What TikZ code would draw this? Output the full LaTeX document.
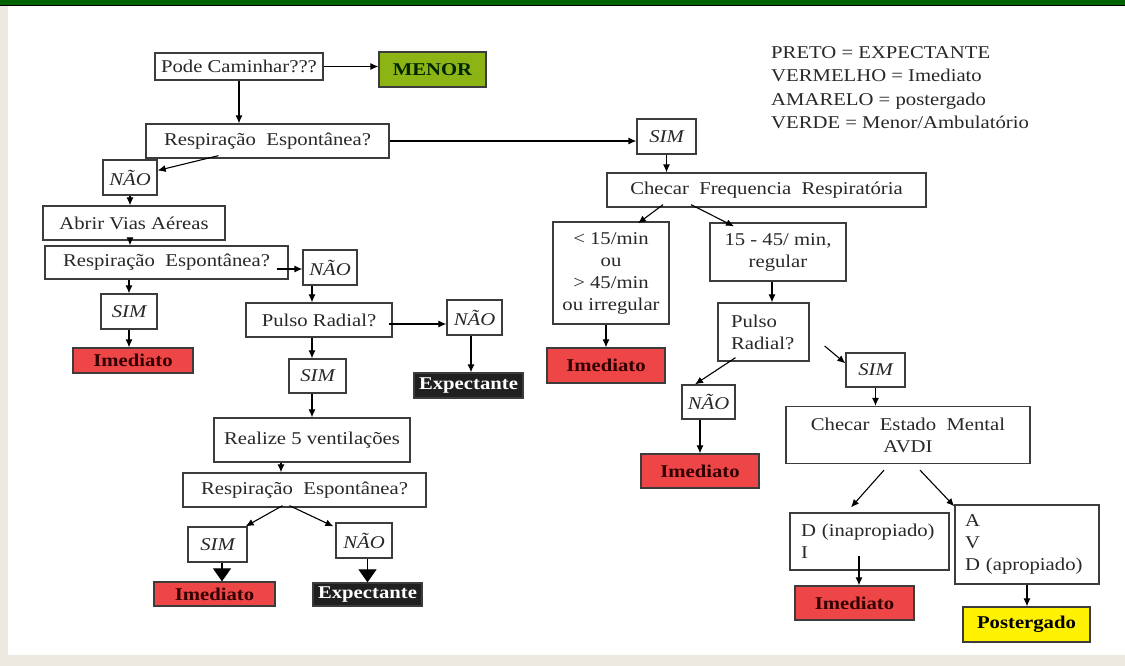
\documentclass[tikz,border=0pt]{standalone}
\usepackage{fontspec}
\setmainfont{Liberation Serif}[FakeStretch=1.15]
\usepackage{tikz}
\usetikzlibrary{arrows.meta,positioning}
\definecolor{barGreen}{RGB}{0,98,0}
\definecolor{pageBeige}{RGB}{236,234,224}
\definecolor{boxLine}{RGB}{60,60,60}
\definecolor{txtGray}{RGB}{40,40,40}
\definecolor{redFill}{RGB}{238,70,70}
\definecolor{redText}{RGB}{50,0,0}
\definecolor{greenFill}{RGB}{140,180,20}
\definecolor{blackFill}{RGB}{32,32,32}
\newcommand{\boxfont}{\fontsize{18}{22}\selectfont}

\begin{document}
\begin{tikzpicture}[x=1pt, y=-1pt,
		every node/.style={inner sep=0pt, font=\boxfont, text=txtGray},
		box/.style={draw=boxLine, line width=1.3pt, fill=white, rectangle},
		ans/.style={box, font=\boxfont\itshape},
		tag/.style={draw=boxLine, line width=1.3pt, rectangle, font=\boxfont\bfseries},
		arr/.style={-{Latex[length=8pt, width=7pt]}, line width=1.1pt, black},
		bigarr/.style={-{Triangle[length=13pt, width=18pt]}, line width=1.1pt, black}]
			% page
			\fill[pageBeige] (0,0) rectangle (1125,666);
			\fill[white] (8,6) rectangle (1125,655);
			\fill[barGreen] (0,0) rectangle (1125,5);
			\fill[black] (0,5) rectangle (1125,6.5);
			\useasboundingbox (0,0) rectangle (1125,666);
			
			\node[anchor=north west, align=left, font=\fontsize{18}{23.3}\selectfont] (legenda) at (771,46.5) {PRETO = EXPECTANTE\\VERMELHO = Imediato\\AMARELO = postergado\\VERDE = Menor/Ambulatório};
			
			% left branch
			\node[box, minimum width=168pt, minimum height=27pt] (pode) at (239,66.5) {Pode Caminhar???};
			
			\node[tag, fill=greenFill, text=black!85!green, minimum width=107pt, minimum height=35pt] (menor) at (432.5,69.5) {MENOR};
			
			\node[box, minimum width=243pt, minimum height=34pt] (resp1) at (267.5,141) {Respiração\ \ Espontânea?};
			
			\node[ans, minimum width=59pt, minimum height=35pt] (simTop) at (666.5,136.5) {SIM};
			
			\node[ans, minimum width=54pt, minimum height=35pt] (naoTop) at (130,177.5) {NÃO};
			
			\node[box, minimum width=182pt, minimum height=34pt] (abrir) at (134,223) {Abrir Vias Aéreas};
			
			\node[box, minimum width=243pt, minimum height=33pt] (resp2) at (166.5,262.5) {Respiração\ \ Espontânea?};
			
			\node[ans, minimum width=54pt, minimum height=35pt] (nao2) at (330,267.5) {NÃO};
			
			\node[ans, minimum width=56pt, minimum height=35pt] (sim2) at (129,311.5) {SIM};
			
			\node[tag, fill=redFill, text=redText, minimum width=120pt, minimum height=25pt] (imed1) at (133,360.5) {Imediato};
			
			\node[box, minimum width=146pt, minimum height=34pt] (pulso1) at (319,320) {Pulso Radial?};
			
			\node[ans, minimum width=55pt, minimum height=35pt] (nao3) at (474.5,317.5) {NÃO};
			
			\node[tag, fill=blackFill, text=white, minimum width=109pt, minimum height=25pt] (expec1) at (468.5,385.5) {Expectante};
			
			\node[ans, minimum width=57pt, minimum height=34pt] (sim3) at (317.5,376) {SIM};
			
			\node[box, minimum width=196pt, minimum height=44pt] (ventila) at (312,440) {Realize 5 ventilações};
			
			\node[box, minimum width=243pt, minimum height=34pt] (resp3) at (304.5,490) {Respiração\ \ Espontânea?};
			
			\node[ans, minimum width=59pt, minimum height=35pt] (sim4) at (217.5,544.5) {SIM};
			
			\node[ans, minimum width=56pt, minimum height=35pt] (nao4) at (364,540.5) {NÃO};
			
			\node[tag, fill=redFill, text=redText, minimum width=121pt, minimum height=24pt] (imed2) at (214.5,594) {Imediato};
			
			\node[tag, fill=blackFill, text=white, minimum width=109pt, minimum height=23pt] (expec2) at (367.5,594.5) {Expectante};
			
			% right branch
			\node[box, minimum width=319pt, minimum height=34pt] (freq) at (766.5,190) {Checar\ \ Frequencia\ \ Respiratória};
			
			\node[box, align=center, minimum width=116pt, minimum height=102pt] (fora) at (611,273) {< 15/min\\ou\\> 45/min\\ou irregular};
			
			\node[box, align=center, minimum width=136pt, minimum height=58pt] (normal) at (778,252) {15 - 45/ min,\\regular};
			
			\node[tag, fill=redFill, text=redText, minimum width=118pt, minimum height=35pt] (imed3) at (606,365.5) {Imediato};
			
			\node[box, align=left, text width=65pt, inner xsep=13pt, minimum height=58pt] (pulso2) at (763.5,332) {Pulso\\Radial?};
			
			\node[ans, minimum width=59pt, minimum height=34pt] (sim5) at (875.5,370) {SIM};
			
			\node[ans, minimum width=53pt, minimum height=34pt] (nao5) at (708.5,402) {NÃO};
			
			\node[tag, fill=redFill, text=redText, minimum width=118pt, minimum height=34pt] (imed4) at (700,471) {Imediato};
			
			\node[box, align=center, minimum width=244pt, minimum height=57pt] (mental) at (908,435) {Checar\ \ Estado\ \ Mental\\AVDI};
			
			\node[box, align=left, text width=137pt, inner xsep=11pt, minimum height=57pt] (inapr) at (869.5,541.5) {D (inapropiado)\\I};
			
			\node[box, align=left, text width=124pt, inner xsep=10pt, minimum height=79pt] (apro) at (1027,544.5) {A\\V\\D (apropiado)};
			
			\node[tag, fill=redFill, text=redText, minimum width=119pt, minimum height=34pt] (imed5) at (854.5,603) {Imediato};
			
			\node[tag, fill=yellow, text=black, minimum width=127pt, minimum height=35pt] (poster) at (1026.5,624.5) {Postergado};
			
			% connectors, left
			\draw[arr] (pode) -- (pode -| menor.west);
			\draw[arr] (pode) -- (pode |- resp1.north);
			\draw[arr] (resp1) -- (resp1 -| simTop.west);
			\draw[arr] ([xshift=-49pt,yshift=3pt]resp1.south) -- ([yshift=7pt]naoTop.east);
			\draw[arr] (naoTop) -- (naoTop |- abrir.north);
			\draw[arr] (naoTop |- abrir.south) -- (naoTop |- resp2.north);
			\draw[arr] ([xshift=-12pt,yshift=-6.5pt]resp2.east) -- ([yshift=-1.5pt]nao2.west);
			\draw[arr] (resp2.south -| sim2) -- (sim2);
			\draw[arr] (sim2) -- (sim2 |- imed1.north);
			\draw[arr] ([xshift=-18pt]nao2.south) -- ([xshift=-7pt]pulso1.north);
			\draw[arr] ([xshift=-4pt,yshift=-4pt]pulso1.east) -- ([yshift=-6.5pt]nao3.west);
			\draw[arr] ([xshift=-3.5pt]nao3.south) -- ([xshift=2.5pt]expec1.north);
			\draw[arr] ([xshift=-7pt]pulso1.south) -- ([xshift=-5.5pt]sim3.north);
			\draw[arr] ([xshift=-5.5pt]sim3.south) -- (ventila);
			\draw[arr] ([xshift=-31pt]ventila.south) -- ([xshift=-23.5pt]resp3.north);
			\draw[arr] ([xshift=-22pt,yshift=2pt]resp3.south) -- ([xshift=-2pt]sim4.north east);
			\draw[arr] ([xshift=-15pt,yshift=2pt]resp3.south) -- ([xshift=-2pt,yshift=-4pt]nao4.north west);
			\draw[bigarr] ([xshift=4.5pt]sim4.south) -- ([xshift=7.5pt]imed2.north);
			\draw[bigarr] (nao4.south -| expec2) -- (expec2.north);
			
			% connectors, right
			\draw[arr] (simTop) -- (simTop |- freq.north);
			\draw[arr] ([xshift=-103.5pt,yshift=3pt]freq.south) -- ([xshift=27pt,yshift=-2pt]fora.north);
			\draw[arr] ([xshift=-75.5pt,yshift=3pt]freq.south) -- ([xshift=-44pt,yshift=-4pt]normal.north);
			\draw[arr] (fora.south -| imed3) -- (imed3.north);
			\draw[arr] ([xshift=-6pt]normal.south) -- ([xshift=8.5pt]pulso2.north);
			\draw[arr] ([xshift=15pt,yshift=-14pt]pulso2.east) -- ([yshift=-11pt]sim5.north west);
			\draw[arr] ([xshift=-28pt,yshift=4pt]pulso2.south) -- ([xshift=-13.5pt]nao5.north);
			\draw[arr] (imed4 |- nao5.south) -- (imed4.north);
			\draw[arr] (sim5) -- (sim5 |- mental.north);
			\draw[arr] ([xshift=-24pt,yshift=-6pt]mental.south) -- ([xshift=-18.5pt,yshift=5pt]inapr.north);
			\draw[arr] ([xshift=12pt,yshift=-6pt]mental.south) -- ([yshift=-2pt]apro.north west);
			\draw[arr] ([xshift=-10.5pt,yshift=15pt]inapr.south) -- ([xshift=4.5pt]imed5.north);
			\draw[arr] (apro) -- (apro |- poster.north);
		\end{tikzpicture}
\end{document}
